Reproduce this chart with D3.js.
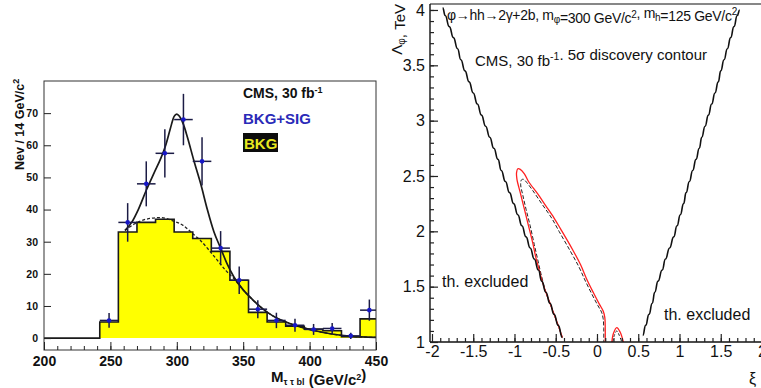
<!DOCTYPE html>
<html>
<head>
<meta charset="utf-8">
<script src="https://cdnjs.cloudflare.com/ajax/libs/d3/7.8.5/d3.min.js"></script>
<style>
  body { margin: 0; background: #fff; }
  svg { display: block; font-family: "Liberation Sans", Arial, Helvetica, sans-serif; }
  .lp text { font-weight: bold; }
  .axis path { stroke: #222; }
  .axis line { stroke: #222; }
</style>
</head>
<body>
<div id="chart"></div>
<script>
// ---- left panel data (mass spectrum) ----
var binStarts = [242, 256, 270, 284, 298, 312, 326, 340, 354, 368, 382, 396, 410, 424, 438];
var bkgCounts = [5, 33, 36, 37, 33, 31, 27, 18, 8, 5, 3.7, 2.8, 2.3, 0.4, 6];
var dataMass = [249, 263, 277, 291, 305, 319, 333, 347, 361, 375, 389, 403, 417, 431, 445];
var dataCounts = [5.5, 36, 48, 57.5, 68, 55, 28, 18, 9, 5.5, 4, 2.7, 3, 0.7, 8.7];
var dataErrors = [2.3, 6, 7, 7.5, 8, 7.5, 5.3, 4.3, 2.8, 2.4, 2, 1.7, 1.7, 1, 3.3];
var sigFitMass = [261, 266, 271, 277, 283, 288, 292, 295, 298, 300, 302, 305, 308, 313, 318, 323, 328, 333, 338, 343, 350, 357, 365, 372, 380, 393, 405, 418, 430, 450];
var sigFitVal = [33.5, 36, 40, 46, 51.5, 56, 60.5, 65, 69, 69.7, 69, 66.5, 62.5, 55, 48, 40, 33, 28, 23, 19, 15, 12, 9, 7, 5.4, 3.5, 2.2, 1.2, 0.6, 0.2];
var bkgFitMass = [261, 268, 277, 288, 297, 305, 312, 318, 324, 330, 337, 343, 350, 357, 365, 372, 380, 393, 405, 418, 430, 450];
var bkgFitVal = [33.5, 35.5, 37, 37.5, 36.5, 35, 32.5, 30.3, 27.5, 24.5, 21, 18.5, 15, 12, 9, 7, 5.4, 3.5, 2.2, 1.2, 0.6, 0.2];
var massTicks = [200, 250, 300, 350, 400, 450];
var countTicks = [0, 10, 20, 30, 40, 50, 60, 70];

// ---- right panel data (discovery contour) ----
var thLeftLam = [1.04, 1.15, 1.25, 1.35, 1.45, 1.55, 1.65, 1.75, 1.85, 1.95, 2.05, 2.15, 2.25, 2.35, 2.45, 2.55, 2.65, 2.75, 2.85, 2.95, 3.05, 3.15, 3.25, 3.35, 3.45, 3.55, 3.65, 3.75, 3.85, 3.95, 4.02];
var thLeftXi = [-0.42, -0.47, -0.52, -0.57, -0.62, -0.67, -0.71, -0.76, -0.81, -0.86, -0.91, -0.96, -1.01, -1.06, -1.11, -1.16, -1.20, -1.25, -1.30, -1.35, -1.40, -1.45, -1.50, -1.55, -1.60, -1.65, -1.69, -1.74, -1.79, -1.84, -1.87];
var thRightLam = [1.06, 1.15, 1.25, 1.35, 1.45, 1.55, 1.65, 1.75, 1.85, 1.95, 2.05, 2.15, 2.25, 2.35, 2.45, 2.55, 2.65, 2.75, 2.85, 2.95, 3.05, 3.15, 3.25, 3.35, 3.45, 3.55, 3.65, 3.75, 3.85, 3.95, 4.00];
var thRightXi = [0.555, 0.59, 0.63, 0.67, 0.70, 0.74, 0.79, 0.83, 0.88, 0.93, 0.97, 1.01, 1.05, 1.08, 1.12, 1.16, 1.20, 1.24, 1.27, 1.31, 1.35, 1.39, 1.43, 1.47, 1.50, 1.54, 1.58, 1.62, 1.66, 1.70, 1.73];
var redXi = [-0.42, -0.47, -0.52, -0.57, -0.62, -0.665, -0.70, -0.74, -0.78, -0.83, -0.88, -0.93, -0.97, -0.975, -0.96, -0.93, -0.88, -0.83, -0.72, -0.62, -0.52, -0.44, -0.30, -0.20, -0.12, -0.04, 0.03, 0.075, 0.095, 0.10, 0.10];
var redLam = [1.04, 1.15, 1.25, 1.35, 1.45, 1.55, 1.65, 1.76, 1.90, 2.05, 2.20, 2.35, 2.47, 2.53, 2.565, 2.56, 2.52, 2.45, 2.34, 2.23, 2.12, 2.02, 1.84, 1.70, 1.56, 1.44, 1.34, 1.28, 1.22, 1.12, 1.0];
var dashXi = [-0.42, -0.47, -0.52, -0.57, -0.62, -0.68, -0.72, -0.76, -0.81, -0.86, -0.90, -0.925, -0.915, -0.89, -0.85, -0.78, -0.67, -0.55, -0.46, -0.33, -0.22, -0.14, -0.06, 0.01, 0.055, 0.075, 0.082, 0.082];
var dashLam = [1.04, 1.15, 1.25, 1.35, 1.45, 1.62, 1.75, 1.88, 2.05, 2.20, 2.33, 2.42, 2.465, 2.47, 2.44, 2.37, 2.25, 2.12, 2.0, 1.83, 1.68, 1.55, 1.43, 1.33, 1.27, 1.21, 1.12, 1.0];
var redBumpXi = [0.18, 0.20, 0.24, 0.28, 0.32];
var redBumpLam = [1.0, 1.08, 1.13, 1.09, 1.0];
var dashBumpXi = [0.19, 0.21, 0.24, 0.27, 0.30];
var dashBumpLam = [1.0, 1.06, 1.10, 1.06, 1.0];
var xiTicks = [-2, -1.5, -1, -0.5, 0, 0.5, 1, 1.5, 2];
var lamTicks = [1, 1.5, 2, 2.5, 3, 3.5, 4];

function zip(a, b) { return a.map(function (d, i) { return [d, b[i]]; }); }

// put text with sub/superscripts; parts = [[string, "n"|"sub"|"sup"], ...]
function richText(t, parts, small) {
  parts.forEach(function (p) {
    var ts = t.append("tspan").text(p[0]);
    if (p[1] == "sub") ts.attr("dy", "0.3em").attr("font-size", small);
    else if (p[1] == "sup") ts.attr("dy", "-0.55em").attr("font-size", small);
    else ts.attr("dy", 0);
    // go back to baseline for next piece
    if (p[1] == "sub") t.append("tspan").attr("dy", "-0.3em").text("");
    if (p[1] == "sup") t.append("tspan").attr("dy", "0.55em").text("");
  });
  return t;
}

var svg = d3.select("#chart").append("svg")
  .attr("width", 761).attr("height", 388);
svg.append("rect").attr("width", 761).attr("height", 388).attr("fill", "#fff");

// ================= LEFT PANEL =================
var lx = d3.scaleLinear().domain([200, 450]).range([44, 376]);
var ly = d3.scaleLinear().domain([-3.7, 80]).range([350, 81]);
var lp = svg.append("g").attr("class", "lp");

lp.append("clipPath").attr("id", "lclip")
  .append("rect").attr("x", 44).attr("y", 81).attr("width", 332).attr("height", 269);
var lplot = lp.append("g").attr("clip-path", "url(#lclip)");

var histPts = [[200, 0]].concat(zip(binStarts, bkgCounts));
histPts.push([452, bkgCounts[bkgCounts.length - 1]]);

lplot.append("path")
  .datum(histPts)
  .attr("fill", "#ffff00")
  .attr("d", d3.area().curve(d3.curveStepAfter)
    .x(function (d) { return lx(d[0]); })
    .y0(ly(0)).y1(function (d) { return ly(d[1]); }));

lplot.append("path")
  .datum(histPts)
  .attr("fill", "none").attr("stroke", "#1a1a1a").attr("stroke-width", 1.6)
  .attr("d", d3.line().curve(d3.curveStepAfter)
    .x(function (d) { return lx(d[0]); })
    .y(function (d) { return ly(d[1]); }));

var fitLine = d3.line().curve(d3.curveMonotoneX)
  .x(function (d) { return lx(d[0]); })
  .y(function (d) { return ly(d[1]); });

lplot.append("path").datum(zip(bkgFitMass, bkgFitVal))
  .attr("fill", "none").attr("stroke", "#222").attr("stroke-width", 1.3)
  .attr("stroke-dasharray", "3,2").attr("d", fitLine);

lplot.append("path").datum(zip(sigFitMass, sigFitVal))
  .attr("fill", "none").attr("stroke", "#1a1a1a").attr("stroke-width", 1.7)
  .attr("d", fitLine);

var pts = lplot.selectAll("g.pt").data(dataMass).enter().append("g").attr("class", "pt");
pts.append("line")
  .attr("x1", function (d) { return lx(d - 7); })
  .attr("x2", function (d) { return lx(d + 7); })
  .attr("y1", function (d, i) { return ly(dataCounts[i]); })
  .attr("y2", function (d, i) { return ly(dataCounts[i]); })
  .attr("stroke", "#1b1b45").attr("stroke-width", 1.5);
pts.append("line")
  .attr("x1", function (d) { return lx(d); })
  .attr("x2", function (d) { return lx(d); })
  .attr("y1", function (d, i) { return ly(dataCounts[i] - dataErrors[i]); })
  .attr("y2", function (d, i) { return ly(dataCounts[i] + dataErrors[i]); })
  .attr("stroke", "#1b1b45").attr("stroke-width", 1.5);
pts.append("circle")
  .attr("cx", function (d) { return lx(d); })
  .attr("cy", function (d, i) { return ly(dataCounts[i]); })
  .attr("r", 2.3).attr("fill", "#1818c8");

// frame
lp.append("rect").attr("x", 44).attr("y", 81).attr("width", 332).attr("height", 269)
  .attr("fill", "none").attr("stroke", "#333").attr("stroke-width", 1);

// axes
var lyAxis = lp.append("g").attr("class", "axis").attr("transform", "translate(44,0)")
  .call(d3.axisLeft(ly).tickValues(countTicks).tickSize(-7).tickPadding(6).tickFormat(String));
lyAxis.selectAll("text").attr("font-size", 10.5).attr("fill", "#111");

lp.append("g").attr("class", "axis").attr("transform", "translate(0,350)")
  .call(d3.axisBottom(lx).tickValues(d3.range(210, 450, 10)).tickSize(-4).tickFormat(""));
var lxAxis = lp.append("g").attr("class", "axis").attr("transform", "translate(0,350)")
  .call(d3.axisBottom(lx).tickValues(massTicks).tickSize(-8).tickPadding(6).tickFormat(String));
lxAxis.selectAll("text").attr("font-size", 14).attr("fill", "#111");
lp.selectAll(".axis .domain").remove();

// titles
richText(lp.append("text").attr("transform", "translate(24,170) rotate(-90)")
  .attr("font-size", 12.5).attr("fill", "#111"),
  [["Nev / 14 GeV/c", "n"], ["2", "sup"]], 9);

richText(lp.append("text").attr("x", 271).attr("y", 382)
  .attr("font-size", 15).attr("fill", "#111"),
  [["M", "n"], ["\u03c4 \u03c4 bl", "sub"], [" (GeV/c", "n"], ["2", "sup"], [")", "n"]], 9);

// legend
richText(lp.append("text").attr("x", 243).attr("y", 98).attr("font-size", 14).attr("fill", "#111"),
  [["CMS, 30 fb", "n"], ["-1", "sup"]], 9);
lp.append("text").attr("x", 243).attr("y", 124).attr("font-size", 15)
  .attr("fill", "#2a2ab8").text("BKG+SIG");
lp.append("rect").attr("x", 243).attr("y", 133).attr("width", 35).attr("height", 19).attr("fill", "#0c0c0c");
lp.append("text").attr("x", 244).attr("y", 149).attr("font-size", 15)
  .attr("fill", "#e8e820").text("BKG");

// ================= RIGHT PANEL =================
var rx = d3.scaleLinear().domain([-2.024, 2.0]).range([430, 762]);
var ry = d3.scaleLinear().domain([1, 4.054]).range([342, 4]);
var rp = svg.append("g").attr("class", "rp");

rp.append("clipPath").attr("id", "rclip")
  .append("rect").attr("x", 430).attr("y", 4).attr("width", 340).attr("height", 338);
var rplot = rp.append("g").attr("clip-path", "url(#rclip)");

var xyLine = function (curve) {
  return d3.line().curve(curve)
    .x(function (d) { return rx(d[0]); })
    .y(function (d) { return ry(d[1]); });
};

rplot.append("path").datum(zip(dashXi, dashLam))
  .attr("fill", "none").attr("stroke", "#222").attr("stroke-width", 1)
  .attr("stroke-dasharray", "4,2").attr("d", xyLine(d3.curveCatmullRom.alpha(0.5)));
rplot.append("path").datum(zip(dashBumpXi, dashBumpLam))
  .attr("fill", "none").attr("stroke", "#222").attr("stroke-width", 1)
  .attr("stroke-dasharray", "3,2").attr("d", xyLine(d3.curveCatmullRom.alpha(0.5)));
rplot.append("path").datum(zip(redXi, redLam))
  .attr("fill", "none").attr("stroke", "#ff2020").attr("stroke-width", 1.3)
  .attr("d", xyLine(d3.curveCatmullRom.alpha(0.5)));
rplot.append("path").datum(zip(redBumpXi, redBumpLam))
  .attr("fill", "none").attr("stroke", "#ff2020").attr("stroke-width", 1.3)
  .attr("d", xyLine(d3.curveCatmullRom.alpha(0.5)));

// theory boundaries are wavy in the original; bumpX between points gives that look
rplot.append("path").datum(zip(thLeftXi, thLeftLam))
  .attr("fill", "none").attr("stroke", "#111").attr("stroke-width", 1.6)
  .attr("d", xyLine(d3.curveBumpX));
rplot.append("path").datum(zip(thRightXi, thRightLam))
  .attr("fill", "none").attr("stroke", "#111").attr("stroke-width", 1.6)
  .attr("d", xyLine(d3.curveBumpX));

// frame lines
rp.append("line").attr("x1", 430).attr("x2", 761).attr("y1", 4).attr("y2", 4)
  .attr("stroke", "#111").attr("stroke-width", 1.2);
rp.append("line").attr("x1", 430).attr("x2", 430).attr("y1", 4).attr("y2", 342)
  .attr("stroke", "#111").attr("stroke-width", 1.4);
rp.append("line").attr("x1", 430).attr("x2", 761).attr("y1", 342).attr("y2", 342)
  .attr("stroke", "#111").attr("stroke-width", 1.4);

// minor ticks
rp.append("g").attr("class", "axis").attr("transform", "translate(430,0)")
  .call(d3.axisLeft(ry).tickValues(d3.range(1.1, 4.05, 0.1)).tickSize(-4).tickFormat(""));
rp.append("g").attr("class", "axis").attr("transform", "translate(0,342)")
  .call(d3.axisBottom(rx).tickValues(d3.range(-1.9, 2.0, 0.1)).tickSize(-4).tickFormat(""));
var ryAxis = rp.append("g").attr("class", "axis").attr("transform", "translate(430,0)")
  .call(d3.axisLeft(ry).tickValues(lamTicks).tickSize(-8).tickPadding(5).tickFormat(String));
ryAxis.selectAll("text").attr("font-size", 16).attr("fill", "#111");
var rxAxis = rp.append("g").attr("class", "axis").attr("transform", "translate(0,342)")
  .call(d3.axisBottom(rx).tickValues(xiTicks).tickSize(-8).tickPadding(4).tickFormat(String));
rxAxis.selectAll("text").attr("font-size", 16).attr("fill", "#111");
rp.selectAll(".axis .domain").remove();
rp.selectAll(".axis line").attr("stroke-width", 1.2);

// titles and labels
richText(rp.append("text").attr("transform", "translate(402,4) rotate(-90)")
  .attr("text-anchor", "end").attr("font-size", 15).attr("fill", "#111"),
  [["\u039b", "n"], ["\u03c6", "sub"], [", TeV", "n"]], 10);

rp.append("text").attr("x", 749).attr("y", 384).attr("font-size", 16).attr("fill", "#111").text("\u03be");

richText(rp.append("text").attr("x", 447).attr("y", 20).attr("font-size", 14)
  .attr("letter-spacing", -0.3).attr("fill", "#111"),
  [["\u03c6\u2192hh\u21922\u03b3+2b, m", "n"], ["\u03c6", "sub"], ["=300 GeV/c", "n"], ["2", "sup"],
   [", m", "n"], ["h", "sub"], ["=125 GeV/c", "n"], ["2", "sup"]], 10);

richText(rp.append("text").attr("x", 475).attr("y", 66).attr("font-size", 15).attr("fill", "#111"),
  [["CMS, 30 fb", "n"], ["-1", "sup"], [". 5\u03c3 discovery contour", "n"]], 10.5);

rp.append("text").attr("x", 442).attr("y", 287).attr("font-size", 16).attr("fill", "#111").text("th. excluded");
rp.append("text").attr("x", 664).attr("y", 320).attr("font-size", 16).attr("fill", "#111").text("th. excluded");
</script>
</body>
</html>
